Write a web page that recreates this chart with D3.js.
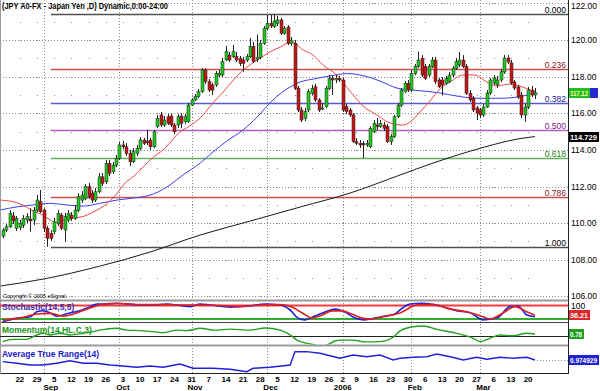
<!DOCTYPE html>
<html><head><meta charset="utf-8">
<script src="https://cdn.jsdelivr.net/npm/d3@7"></script>
<style>
body{margin:0;background:#fff;}
svg{display:block;}
text{font-family:"Liberation Sans",Arial,sans-serif;}
</style></head>
<body><svg id="c" width="600" height="391"></svg>
<script>
// ---------- DATA ----------
const startDate = "2005-08-15", endDate = "2006-03-22";
const holidays = ["2005-12-26", "2006-01-02"];

const open = [109.29,109.62,109.80,110.39,109.72,109.77,109.89,110.17,110.22,110.17,110.71,111.17,110.71,109.72,109.44,109.53,109.99,110.44,109.62,110.17,110.44,110.26,110.71,111.26,111.35,111.99,111.63,111.26,111.71,112.53,112.26,113.27,112.81,113.17,113.54,114.27,114.17,113.81,113.35,113.81,114.09,114.54,114.45,114.54,
114.17,115.27,115.91,115.36,115.81,115.85,115.36,115.36,115.85,115.54,115.54,116.45,116.73,116.91,117.18,118.37,117.73,117.55,117.55,118.09,118.09,118.91,119.18,119.09,119.09,119.00,118.91,118.91,119.09,119.64,118.95,119.05,119.82,120.64,120.92,120.73,120.92,121.10,120.37,120.71,
119.82,119.82,117.36,116.18,115.73,116.18,117.09,117.45,116.73,116.27,116.36,117.36,117.91,117.82,117.91,117.82,116.36,116.18,115.91,114.45,114.36,114.36,114.27,114.17,114.99,115.36,115.27,115.36,115.27,114.45,114.72,115.81,116.45,117.18,117.64,117.27,118.18,118.55,
119.00,118.55,118.09,118.55,118.91,117.82,117.82,117.64,117.73,118.09,118.46,118.64,118.91,118.55,117.09,116.83,116.29,116.18,115.91,116.34,117.11,117.65,117.55,117.82,118.26,119.02,118.75,117.71,117.44,117.00,115.91,116.34,117.27,117.00];
const high = [109.73,109.95,110.71,110.61,110.39,110.17,110.44,110.55,110.81,110.88,111.53,111.81,110.82,109.84,109.62,110.28,110.71,110.55,110.55,110.71,110.61,110.99,111.64,111.75,112.13,112.19,111.81,111.92,112.74,112.74,113.45,113.45,113.34,113.72,114.43,114.49,114.38,114.00,114.10,114.27,114.70,114.65,115.09,114.65,
115.09,115.91,116.07,115.85,115.96,116.01,115.47,115.96,116.01,115.96,116.56,116.83,117.05,117.33,118.47,118.47,117.87,117.66,118.31,118.37,119.02,119.68,119.35,119.73,119.35,119.13,119.08,119.24,120.11,119.90,120.30,120.00,120.77,121.37,121.37,121.42,121.32,121.21,120.77,120.82,
120.17,120.00,117.49,116.34,116.29,117.33,117.55,117.60,116.83,116.56,117.49,118.09,118.04,118.09,118.04,117.93,116.51,116.29,116.01,114.65,114.54,114.49,114.54,115.30,115.63,115.74,115.63,115.52,115.41,114.87,115.91,116.56,117.38,117.76,117.82,118.37,118.69,119.37,
119.18,118.69,118.69,119.08,119.08,117.93,117.98,118.04,118.26,118.58,119.02,119.35,119.18,118.69,117.27,116.94,116.40,116.29,116.51,117.27,117.93,118.09,118.04,118.42,119.18,119.18,118.91,117.82,117.55,117.16,116.51,117.44,117.49,117.38];
const low = [109.18,109.51,109.73,109.95,109.57,109.62,109.73,110.00,109.53,109.89,110.60,110.55,109.51,108.71,109.02,109.40,109.84,109.62,108.98,110.06,110.12,110.17,110.60,111.10,111.26,111.32,111.10,111.15,111.64,112.03,112.13,112.57,112.68,113.06,113.45,114.05,113.67,113.12,113.28,113.67,114.00,114.27,114.27,114.00,
114.10,115.20,115.25,115.25,115.36,115.25,114.87,115.20,115.18,115.41,115.47,116.40,116.67,116.83,117.11,117.60,117.16,117.00,117.44,117.98,117.98,118.86,118.80,119.02,118.80,118.58,118.27,118.80,119.02,118.75,118.80,118.95,119.73,120.55,120.66,120.66,120.77,120.28,120.28,119.73,
119.68,117.27,116.07,115.52,115.58,116.07,117.00,116.62,116.07,116.18,116.29,117.27,117.00,117.65,117.71,116.07,115.96,115.80,114.38,114.27,114.10,113.56,114.16,114.10,114.92,115.09,115.20,115.03,114.38,114.27,114.65,115.74,116.34,117.11,117.16,117.16,118.09,118.47,
117.98,117.82,117.98,118.47,117.60,117.38,117.00,117.55,117.65,117.98,118.37,118.53,118.47,117.00,116.62,116.07,115.63,115.74,115.80,116.29,117.00,117.55,117.38,117.71,118.15,118.69,117.55,117.27,116.78,115.74,115.54,116.23,116.89,116.78];
const close = [109.62,109.80,110.53,110.12,110.26,109.99,110.26,110.35,110.12,110.71,111.26,110.62,109.72,109.17,109.17,110.07,110.53,109.72,110.35,110.53,110.26,110.71,111.44,111.53,111.99,111.44,111.26,111.71,112.53,112.17,113.27,112.72,113.17,113.54,114.27,114.17,113.81,113.35,113.90,114.09,114.54,114.36,114.40,114.17,
114.99,115.73,115.36,115.63,115.45,115.36,114.99,115.81,115.45,115.81,116.45,116.73,116.91,117.18,118.37,117.73,117.27,117.27,118.18,118.18,118.82,119.37,118.91,119.37,118.91,118.73,118.73,119.09,119.64,118.82,119.05,119.82,120.64,120.92,120.77,121.04,121.10,120.37,120.64,119.82,
120.00,117.36,116.18,115.63,116.09,117.18,117.36,116.73,116.18,116.29,117.36,117.91,117.82,117.91,117.82,116.18,116.09,115.91,114.45,114.36,114.27,114.27,114.36,115.18,115.45,115.27,115.45,115.18,114.45,114.72,115.81,116.45,117.27,117.64,117.27,118.18,118.55,118.91,
118.09,117.91,118.55,118.91,117.73,117.45,117.55,117.91,118.09,118.47,118.82,118.91,118.55,117.09,116.73,116.18,116.01,115.91,116.34,117.11,117.82,117.93,117.82,118.27,119.02,118.80,117.66,117.38,116.89,115.91,116.34,117.27,117.00,117.12];

// moving averages: [bar index, value]
const maFast = [[-0.8,111.26],[3,111.17],[5.9,110.99],[8.8,110.66],[11.7,110.44],[13.8,110.17],[15.5,110.03],[17.6,110.17],[20.5,110.28],[23.4,110.36],[26.3,110.60],[29.2,110.91],[32.1,111.37],[33.6,111.70],[35.6,112.19],[37.9,112.52],[40.6,113.01],[42.9,113.45],[47.3,114.10],[51.6,114.98],[54.5,115.31],[57.5,115.74],[61.2,116.56],[64.2,117.16],[67.7,117.93],[71.1,118.53],[74.1,118.91],[77.8,119.35],[80.8,119.62],[84.2,119.90],[87.5,119.46],[90.4,119.18],[93.3,118.64],[97.3,118.09],[101.1,117.22],[104.9,116.40],[109,115.91],[112.8,115.47],[116.6,115.36],[118.6,115.52],[121.5,116.07],[124.4,116.67],[127.3,117.33],[130.3,117.71],[134,118.09],[137.5,118.09],[141,117.71],[143.9,117.49],[147.7,117.60],[150.6,117.49],[153.6,117.27],[155,117.18]];
const maMid = [[-0.8,110.71],[4.2,110.89],[8.8,110.99],[13.8,111.08],[18.7,110.99],[23.4,110.93],[28.3,111.08],[33.3,111.26],[37.9,111.37],[42.9,111.53],[47.8,111.97],[52.5,112.63],[57.5,113.28],[61.2,113.88],[65.3,114.49],[70,115.09],[74.1,115.80],[78.7,116.73],[83.7,117.44],[86.6,117.71],[90.4,117.87],[95.3,118.04],[100.3,118.17],[104.9,118.06],[109.9,117.76],[114.8,117.38],[119.5,117.27],[124.4,117.18],[127.3,117.11],[133.2,116.91],[139,116.82],[144.8,116.82],[150.6,116.91],[155,117.11]];
const maSlow = [[-0.8,106.56],[11.7,106.94],[28.3,107.65],[42.9,108.42],[57.5,109.35],[72,110.11],[86.6,110.88],[101.1,111.64],[115.7,112.63],[125.3,113.28],[135.2,113.88],[144.8,114.38],[149.8,114.59],[155,114.729]];

// Fibonacci retracement
const fibHigh = 121.42, fibLow = 108.71, fibStartDate = "2005-09-02";
const fibLevels = [0, 0.236, 0.382, 0.5, 0.618, 0.786, 1];
const fibLabels = ["0.000","0.236","0.382","0.500","0.618","0.786","1.000"];

// indicators: [bar index, value]
const stochK = [[0,8],[4.1,24],[8,30],[9.9,52],[11.7,57],[13.8,47],[15.7,33],[17.6,38],[19.6,47],[22.5,57],[25.4,75],[27.4,87],[29.2,87],[33.2,90],[36.1,87],[40,82],[43.8,82],[47.8,87],[52.5,78],[54.5,75],[57.5,87],[60.4,82],[66.2,73],[72,78],[76.4,87],[80.8,82],[83.7,60],[86,24],[88,16],[90.9,33],[93.9,51],[96.8,64],[99.7,51],[102.6,24],[105.5,16],[108.4,24],[111.3,33],[114.2,42],[115.7,60],[118.6,87],[122.4,90],[127.3,78],[132.2,57],[136.1,48],[139.9,16],[143.9,24],[147.7,75],[150.1,78],[152.6,38],[155,30]];
const stochD = [[0,16],[5,24],[9.9,42],[13.8,45],[17.6,33],[21.6,47],[25.4,69],[29.2,85],[34.2,89],[40,84],[45.8,84],[51.6,82],[57.5,82],[63.3,80],[69.1,76],[74.9,82],[80.8,84],[84.2,73],[87.2,47],[90.1,24],[93,38],[95.9,56],[98.8,56],[101.7,42],[104.6,24],[107.5,20],[110.5,29],[113.4,38],[115.7,47],[120.6,82],[125.3,85],[130.3,64],[135.1,52],[139.9,30],[141.9,20],[145.7,47],[149.2,75],[152.6,52],[155,36.21]];
const stochBands = [80, 20];
const momentum = [[0,-2.2],[3,-1.3],[7,-1.3],[9.9,0.4],[11.7,1.05],[13.8,0.4],[16.7,1.05],[19.6,0.4],[23.4,1.05],[26.3,1.7],[28.3,2.3],[33.2,3.0],[36.1,2.3],[40,2.1],[43.8,1.7],[46.7,1.3],[50.7,2.3],[53.6,2.1],[57.5,3.0],[61.8,2.3],[66.2,2.7],[72,2.3],[76.4,3.1],[80.8,2.3],[84.2,0],[85.7,-1.6],[88,-2.7],[90.9,-3.5],[92.4,-4.2],[94.4,-3.5],[96.8,-1.95],[98.2,-1.6],[102,-1.6],[105.5,-2.3],[109.9,-2.2],[111,-2.0],[113.7,-0.5],[115.7,2.0],[119.5,3.6],[122.4,3.9],[126.4,2.6],[132.2,1.05],[137,-0.9],[139,-2.2],[141.9,-0.9],[144.8,0.4],[148.6,0.12],[152.6,1.05],[155,0.78]];
const atr = [[0,0.93],[4.1,0.886],[8,0.84],[11.7,0.84],[15.7,0.886],[19.6,0.956],[23.4,0.886],[27.4,0.886],[31.3,0.84],[35,0.813],[39,0.778],[42.9,0.813],[46.7,0.778],[51.6,0.867],[55.4,0.751],[61.2,0.751],[66.2,0.724],[71.1,0.659],[72.9,0.751],[77.8,0.778],[83.7,0.84],[85.1,1.2],[88.5,1.2],[92.4,1.156],[94.4,1.11],[98.2,1.021],[102,1.11],[106,1.064],[109.9,1.11],[113.7,0.975],[115.7,1.021],[119.5,1.048],[123.5,1.064],[126.4,1.137],[130.3,1.064],[134.1,0.975],[138,1.048],[141,0.994],[144.8,1.048],[148.6,1.021],[152.6,1.048],[155,0.974929]];

// axis labels
const priceTicks = [106,108,110,112,114,116,118,120,122];
const weekDates = ["2005-08-22","2005-08-29","2005-09-05","2005-09-12","2005-09-19","2005-09-26","2005-10-03","2005-10-10","2005-10-17","2005-10-24","2005-10-31","2005-11-07","2005-11-14","2005-11-21","2005-11-28","2005-12-05","2005-12-12","2005-12-19","2005-12-26","2006-01-02","2006-01-09","2006-01-16","2006-01-23","2006-01-30","2006-02-06","2006-02-13","2006-02-20","2006-02-27","2006-03-06","2006-03-13","2006-03-20"];
const weekLabels = ["22","29","5","12","19","26","3","10","17","24","31","7","14","21","28","5","12","19","26","2","9","16","23","30","6","13","20","27","6","13","20"];
const monthDates = ["2005-09-02","2005-10-03","2005-11-01","2005-12-01","2006-01-03","2006-02-01","2006-03-01"];
const monthLabels = ["Sep","Oct","Nov","Dec","2006","Feb","Mar"];
const monthGridDates = ["2005-08-31","2005-09-30","2005-10-31","2005-11-30","2006-01-03","2006-01-31","2006-02-28"];

// ---------- BUILD ----------
const parse = d3.utcParse("%Y-%m-%d"), fmt = d3.utcFormat("%Y-%m-%d");
const dates = [];
for (let d = parse(startDate); d <= parse(endDate); d = d3.utcDay.offset(d, 1)) {
  const wd = d.getUTCDay(), s = fmt(d);
  if (wd > 0 && wd < 6 && !holidays.includes(s)) dates.push(s);
}
const idx = s => d3.bisectLeft(dates, s);

const PR = 568;
const svg = d3.select("#c");
svg.append("rect").attr("width", 600).attr("height", 391).attr("fill", "#fff");

const x = d3.scaleLinear().domain([0, dates.length - 1]).range([2.7, 535]);
const yP = d3.scaleLinear().domain([105.80, 122.19]).range([300, 0]);
const yS = d3.scaleLinear().domain([0, 100]).range([323.5, 301]);
const yM = d3.scaleLinear().domain([0, 1]).range([336, 333.44]);
const yA = d3.scaleLinear().domain([0.975, 1.975]).range([360, 323]);

const defs = svg.append("defs");
function clip(id, y0, y1) {
  defs.append("clipPath").attr("id", id).append("rect").attr("x", 0).attr("y", y0).attr("width", PR).attr("height", y1 - y0);
  return "url(#" + id + ")";
}
const cMain = clip("cm", 0, 300), cS = clip("cs", 301, 322), cMo = clip("cmo", 323, 344.5), cA = clip("ca", 347, 373);
const px = v => Math.round(v) + 0.5;

// ---- grids ----
const grid = svg.append("g");
priceTicks.forEach(v => {
  grid.append("line").attr("x1", 0).attr("x2", PR).attr("y1", px(yP(v))).attr("y2", px(yP(v)))
    .attr("stroke", "#8c8c8c").attr("stroke-dasharray", "1,2");
});
monthGridDates.forEach(s => {
  const xx = px(x(idx(s)));
  grid.append("line").attr("x1", xx).attr("x2", xx).attr("y1", 0).attr("y2", 373)
    .attr("stroke", "#8c8c8c").attr("stroke-dasharray", "1,2");
});
d3.range(106, 123).forEach(v => {
  weekDates.forEach(s => {
    grid.append("rect").attr("x", Math.round(x(idx(s)))).attr("y", Math.round(yP(v))).attr("width", 1).attr("height", 1).attr("fill", "#8c8c8c");
  });
});

// ---- Fibonacci ----
const fibColors = ["#505050","#d05050","#5a5ad0","#b060b8","#60b060","#d05050","#505050"];
const fibText = ["#000000","#902020","#202090","#802080","#208020","#902020","#000000"];
const fx0 = x(idx(fibStartDate));
fibLevels.forEach((f, k) => {
  const v = fibHigh - f * (fibHigh - fibLow);
  const yy = Math.round(yP(v)) + 0.5;
  svg.append("line").attr("x1", fx0).attr("x2", PR).attr("y1", yy).attr("y2", yy)
    .attr("stroke", fibColors[k]).attr("stroke-width", 1.6);
  svg.append("text").attr("x", 566).attr("y", yy - 2).attr("text-anchor", "end")
    .attr("font-size", 8.5).attr("fill", fibText[k]).text(fibLabels[k]);
});

// ---- moving averages ----
const maLine = d3.line().x(d => x(d[0])).y(d => yP(d[1])).curve(d3.curveMonotoneX);
const gm = svg.append("g").attr("clip-path", cMain);
gm.append("path").attr("d", maLine(maSlow)).attr("fill", "none").attr("stroke", "#1a1a1a").attr("stroke-width", 1);
gm.append("path").attr("d", maLine(maMid)).attr("fill", "none").attr("stroke", "#3c3cf0").attr("stroke-width", 1);
gm.append("path").attr("d", maLine(maFast)).attr("fill", "none").attr("stroke", "#f04848").attr("stroke-width", 1);

// ---- candles ----
const gc = svg.append("g").attr("clip-path", cMain);
dates.forEach((s, i) => {
  const cx = Math.round(x(i));
  gc.append("line").attr("x1", cx + 0.5).attr("x2", cx + 0.5).attr("y1", yP(high[i])).attr("y2", yP(low[i]))
    .attr("stroke", "#222").attr("stroke-width", 1);
  const y0 = yP(Math.max(open[i], close[i])), y1 = yP(Math.min(open[i], close[i]));
  gc.append("rect").attr("x", cx - 1).attr("y", y0).attr("width", 3).attr("height", Math.max(1, y1 - y0))
    .attr("fill", close[i] >= open[i] ? "#1ec81e" : "#c81414").attr("stroke", "#222").attr("stroke-width", 0.5);
});

// ---- panel frames ----
svg.append("line").attr("x1", 0).attr("x2", PR).attr("y1", 300.5).attr("y2", 300.5).attr("stroke", "#9a9a9a").attr("stroke-width", 2);
svg.append("line").attr("x1", 0).attr("x2", PR).attr("y1", 322.5).attr("y2", 322.5).attr("stroke", "#444").attr("stroke-width", 1);
svg.append("line").attr("x1", 0).attr("x2", PR).attr("y1", 345.5).attr("y2", 345.5).attr("stroke", "#9a9a9a").attr("stroke-width", 2);
svg.append("line").attr("x1", 0).attr("x2", PR).attr("y1", 373.5).attr("y2", 373.5).attr("stroke", "#222").attr("stroke-width", 1);
svg.append("line").attr("x1", 0.5).attr("x2", 0.5).attr("y1", 0).attr("y2", 374).attr("stroke", "#9a9a9a");
svg.append("line").attr("x1", PR + 0.5).attr("x2", PR + 0.5).attr("y1", 0).attr("y2", 374).attr("stroke", "#222");

// ---- stochastic ----
const gs = svg.append("g").attr("clip-path", cS);
gs.append("line").attr("x1", 0).attr("x2", PR).attr("y1", yS(stochBands[0])).attr("y2", yS(stochBands[0])).attr("stroke", "#f03c3c").attr("stroke-width", 2);
gs.append("line").attr("x1", 0).attr("x2", PR).attr("y1", yS(stochBands[1])).attr("y2", yS(stochBands[1])).attr("stroke", "#30b030").attr("stroke-width", 2);
const sLine = d3.line().x(d => x(d[0])).y(d => yS(d[1])).curve(d3.curveMonotoneX);
gs.append("path").attr("d", sLine(stochK)).attr("fill", "none").attr("stroke", "#2020e0").attr("stroke-width", 1.6);
gs.append("path").attr("d", sLine(stochD)).attr("fill", "none").attr("stroke", "#e02020").attr("stroke-width", 1.6);

// ---- momentum ----
const gmo = svg.append("g").attr("clip-path", cMo);
gmo.append("line").attr("x1", 0).attr("x2", PR).attr("y1", px(yM(0))).attr("y2", px(yM(0))).attr("stroke", "#222");
gmo.append("path").attr("d", d3.line().x(d => x(d[0])).y(d => yM(d[1])).curve(d3.curveMonotoneX)(momentum))
  .attr("fill", "none").attr("stroke", "#20a020").attr("stroke-width", 1.4);

// ---- ATR ----
const ga = svg.append("g").attr("clip-path", cA);
ga.append("path").attr("d", d3.line().x(d => x(d[0])).y(d => yA(d[1])).curve(d3.curveLinear)(atr))
  .attr("fill", "none").attr("stroke", "#2020d8").attr("stroke-width", 1.4);
const lastA = atr[atr.length - 1];
svg.append("line").attr("x1", x(lastA[0]) + 2).attr("x2", PR).attr("y1", px(yA(lastA[1]))).attr("y2", px(yA(lastA[1])))
  .attr("stroke", "#999").attr("stroke-dasharray", "1,2");

// ---- right axis labels ----
const ra = svg.append("g").attr("font-size", 8.5).attr("fill", "#000");
priceTicks.forEach(v => ra.append("text").attr("x", 571).attr("y", Math.max(9, yP(v) + 3)).text(v.toFixed(2)));
ra.append("text").attr("x", 571).attr("y", yS(stochBands[0]) + 3).text("100");

function box(xx, yc, w, bg, fg, txt) {
  svg.append("rect").attr("x", xx).attr("y", Math.round(yc) - 5).attr("width", w).attr("height", 10).attr("fill", bg);
  if (txt) svg.append("text").attr("x", xx + 1).attr("y", Math.round(yc) + 3).attr("font-size", 7.5).attr("fill", fg)
    .attr("font-weight", "bold").attr("textLength", w - 3).attr("lengthAdjust", "spacingAndGlyphs").text(txt);
}
const lastMid = maMid[maMid.length - 1][1];
box(589, yP(lastMid), 9, "#2828d0", "#fff", null);
box(569, yP(close[close.length - 1]), 21, "#20c020", "#ffffa0", close[close.length - 1].toFixed(2));
const lastSlow = maSlow[maSlow.length - 1][1];
box(569, yP(lastSlow), 30, "#000", "#fff", lastSlow.toFixed(3));
box(569, yS(stochD[stochD.length - 1][1]), 21, "#e02828", "#fff", stochD[stochD.length - 1][1].toFixed(2));
box(569, yM(momentum[momentum.length - 1][1]), 15, "#20a020", "#fff", momentum[momentum.length - 1][1].toFixed(2));
box(569, yA(lastA[1]), 30, "#2020d0", "#fff", lastA[1].toFixed(6));

// ---- titles ----
svg.append("text").attr("x", 2).attr("y", 9).attr("font-size", 8.5).attr("font-weight", "bold").attr("fill", "#000")
  .attr("textLength", 166).attr("lengthAdjust", "spacingAndGlyphs").text("(JPY A0-FX - Japan Yen   ,D) Dynamic,0:00-24:00");
svg.append("text").attr("x", 3).attr("y", 298).attr("font-size", 5.5).attr("fill", "#000").text("Copyright \u00a9 2005 eSignal.");
svg.append("text").attr("x", 2).attr("y", 310).attr("font-size", 8.5).attr("font-weight", "bold").attr("fill", "#3a2ab0").text("Stochastic(14,5,5)");
svg.append("text").attr("x", 2).attr("y", 333).attr("font-size", 8.5).attr("font-weight", "bold").attr("fill", "#1a961a").text("Momentum(14,HL,C,3)");
svg.append("text").attr("x", 2).attr("y", 357).attr("font-size", 8.5).attr("font-weight", "bold").attr("fill", "#2020c8").text("Average True Range(14)");

// ---- bottom axis ----
const ba = svg.append("g").attr("font-size", 8).attr("font-weight", "bold").attr("fill", "#000").attr("text-anchor", "middle");
weekDates.forEach((s, k) => ba.append("text").attr("x", x(idx(s))).attr("y", 381.5).text(weekLabels[k]));
monthDates.forEach((s, k) => ba.append("text").attr("x", x(idx(s))).attr("y", 389.5).text(monthLabels[k]));
</script>
</body></html>
